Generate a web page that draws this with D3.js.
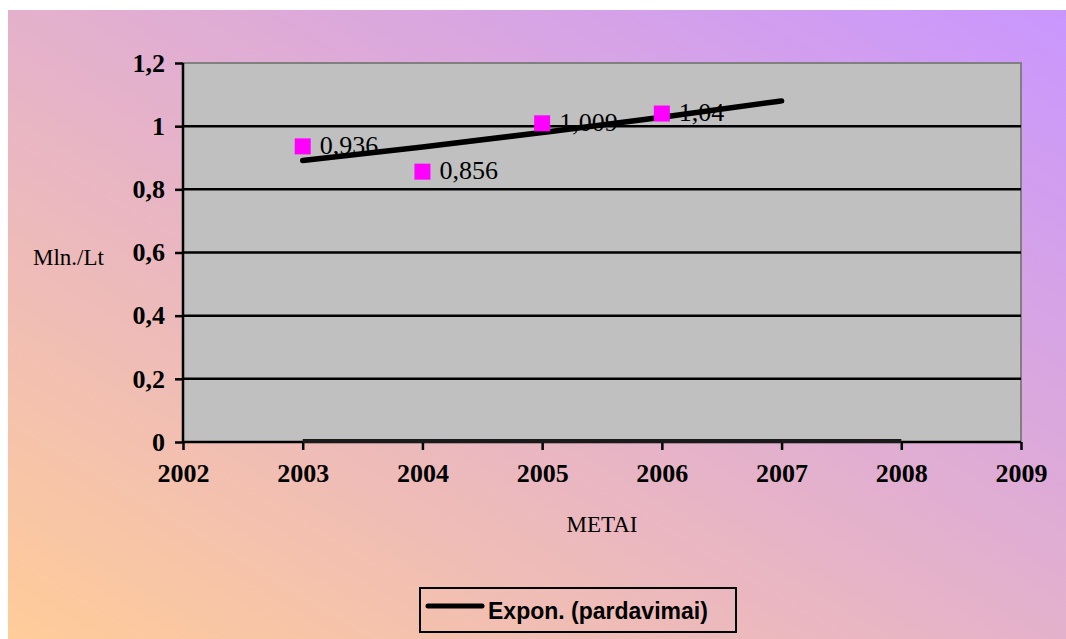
<!DOCTYPE html>
<html>
<head>
<meta charset="utf-8">
<script src="https://cdn.jsdelivr.net/npm/d3@7"></script>
<style>
  html, body { margin: 0; padding: 0; background: #ffffff; }
  svg { display: block; }
</style>
</head>
<body>
<svg id="chart" width="1066" height="639"></svg>
<script>
// Annual sales (mln. Lt) with an exponential trend
const years = [2003, 2004, 2005, 2006];
const sales = [0.936, 0.856, 1.009, 1.04];
const salesLabels = ["0,936", "0,856", "1,009", "1,04"];

const trendYears = [2003, 2004, 2005, 2006, 2007];
const trendValues = [0.891, 0.934, 0.980, 1.028, 1.080];

const baseYears = [2003, 2004, 2005, 2006, 2007, 2008];
const baseValues = [0, 0, 0, 0, 0, 0];

const xTicks = [2002, 2003, 2004, 2005, 2006, 2007, 2008, 2009];
const yTicks = [0, 0.2, 0.4, 0.6, 0.8, 1.0, 1.2];
const yTickLabels = ["0", "0,2", "0,4", "0,6", "0,8", "1", "1,2"];

const yTitle = "Mln./Lt";
const xTitle = "METAI";
const legendLabel = "Expon. (pardavimai)";

const svg = d3.select("#chart");
const W = 1066, H = 639;
const plot = { left: 183, right: 1021, top: 63, bottom: 442 };

const serif = "'Liberation Serif', 'Times New Roman', serif";
const sans = "'Liberation Sans', Arial, sans-serif";

// Background gradient
const defs = svg.append("defs");
const grad = defs.append("linearGradient")
  .attr("id", "bg")
  .attr("x1", 0).attr("y1", 1).attr("x2", 1).attr("y2", 0);
grad.append("stop").attr("offset", "0%").attr("stop-color", "#ffcc99");
grad.append("stop").attr("offset", "100%").attr("stop-color", "#c996ff");

svg.append("rect")
  .attr("x", 8).attr("y", 10)
  .attr("width", W - 8).attr("height", H - 10)
  .attr("fill", "url(#bg)");

const x = d3.scaleLinear().domain([2002, 2009]).range([plot.left, plot.right]);
const y = d3.scaleLinear().domain([0, 1.2]).range([plot.bottom, plot.top]);

// Plot area
svg.append("rect")
  .attr("x", plot.left).attr("y", plot.top)
  .attr("width", plot.right - plot.left).attr("height", plot.bottom - plot.top)
  .attr("fill", "#c0c0c0");

// Top and right border
svg.append("path")
  .attr("d", `M${plot.left},${plot.top}H${plot.right}V${plot.bottom}`)
  .attr("fill", "none")
  .attr("stroke", "#808080")
  .attr("stroke-width", 2);

// Horizontal gridlines
svg.append("g")
  .selectAll("line")
  .data(yTicks.filter(d => d > 0 && d < 1.2))
  .join("line")
  .attr("x1", plot.left).attr("x2", plot.right)
  .attr("y1", d => y(d)).attr("y2", d => y(d))
  .attr("stroke", "#000")
  .attr("stroke-width", 2.5);

// Y axis
const yAxis = d3.axisLeft(y)
  .tickValues(yTicks)
  .tickFormat((d, i) => yTickLabels[i])
  .tickSize(8)
  .tickPadding(10);
const gy = svg.append("g")
  .attr("transform", `translate(${plot.left},0)`)
  .call(yAxis);
gy.select(".domain").attr("stroke", "#000").attr("stroke-width", 2.5)
  .attr("d", `M0,${plot.top}V${plot.bottom}`);
gy.selectAll(".tick line").attr("stroke", "#000").attr("stroke-width", 2.5);
gy.selectAll(".tick text")
  .attr("font-family", serif)
  .attr("font-weight", "bold")
  .attr("font-size", 26)
  .attr("fill", "#000");

// X axis
const xAxis = d3.axisBottom(x)
  .tickValues(xTicks)
  .tickFormat(d3.format("d"))
  .tickSize(8)
  .tickPadding(14);
const gx = svg.append("g")
  .attr("transform", `translate(0,${plot.bottom})`)
  .call(xAxis);
gx.select(".domain").attr("stroke", "#000").attr("stroke-width", 2.5)
  .attr("d", `M${plot.left},0H${plot.right}`);
gx.selectAll(".tick line").attr("stroke", "#000").attr("stroke-width", 2.5);
gx.selectAll(".tick text")
  .attr("font-family", serif)
  .attr("font-weight", "bold")
  .attr("font-size", 26)
  .attr("fill", "#000");

// Series line along zero
svg.append("path")
  .datum(baseYears.map((yr, i) => [yr, baseValues[i]]))
  .attr("fill", "none")
  .attr("stroke", "#1a1a1a")
  .attr("stroke-width", 4)
  .attr("d", d3.line().x(d => x(d[0])).y(d => y(d[1]) - 1));

// Exponential trend line
svg.append("path")
  .datum(trendYears.map((yr, i) => [yr, trendValues[i]]))
  .attr("fill", "none")
  .attr("stroke", "#000")
  .attr("stroke-width", 5.5)
  .attr("stroke-linecap", "round")
  .attr("d", d3.line().curve(d3.curveMonotoneX).x(d => x(d[0])).y(d => y(d[1])));

// Markers
const ms = 16;
svg.append("g")
  .selectAll("rect")
  .data(years.map((yr, i) => [yr, sales[i]]))
  .join("rect")
  .attr("x", d => x(d[0]) - ms / 2)
  .attr("y", d => y(d[1]) - ms / 2)
  .attr("width", ms).attr("height", ms)
  .attr("fill", "#ff00ff");

// Data labels
svg.append("g")
  .selectAll("text")
  .data(years.map((yr, i) => [yr, sales[i], salesLabels[i]]))
  .join("text")
  .attr("x", d => x(d[0]) + 17)
  .attr("y", d => y(d[1]))
  .attr("dy", "0.28em")
  .attr("font-family", serif)
  .attr("font-size", 26)
  .attr("fill", "#000")
  .text(d => d[2]);

// Axis titles
svg.append("text")
  .attr("x", 33).attr("y", 265)
  .attr("font-family", serif)
  .attr("font-size", 23)
  .attr("fill", "#000")
  .text(yTitle);

svg.append("text")
  .attr("x", (plot.left + plot.right) / 2).attr("y", 532)
  .attr("text-anchor", "middle")
  .attr("font-family", serif)
  .attr("font-size", 23)
  .attr("fill", "#000")
  .text(xTitle);

// Legend
const lg = svg.append("g");
lg.append("rect")
  .attr("x", 420).attr("y", 588)
  .attr("width", 316).attr("height", 44)
  .attr("fill", "none")
  .attr("stroke", "#000")
  .attr("stroke-width", 2);
lg.append("line")
  .attr("x1", 428).attr("x2", 482)
  .attr("y1", 606).attr("y2", 606)
  .attr("stroke", "#000")
  .attr("stroke-width", 5)
  .attr("stroke-linecap", "round");
lg.append("text")
  .attr("x", 488).attr("y", 619)
  .attr("font-family", sans)
  .attr("font-weight", "bold")
  .attr("font-size", 23)
  .attr("fill", "#000")
  .text(legendLabel);
</script>
</body>
</html>
